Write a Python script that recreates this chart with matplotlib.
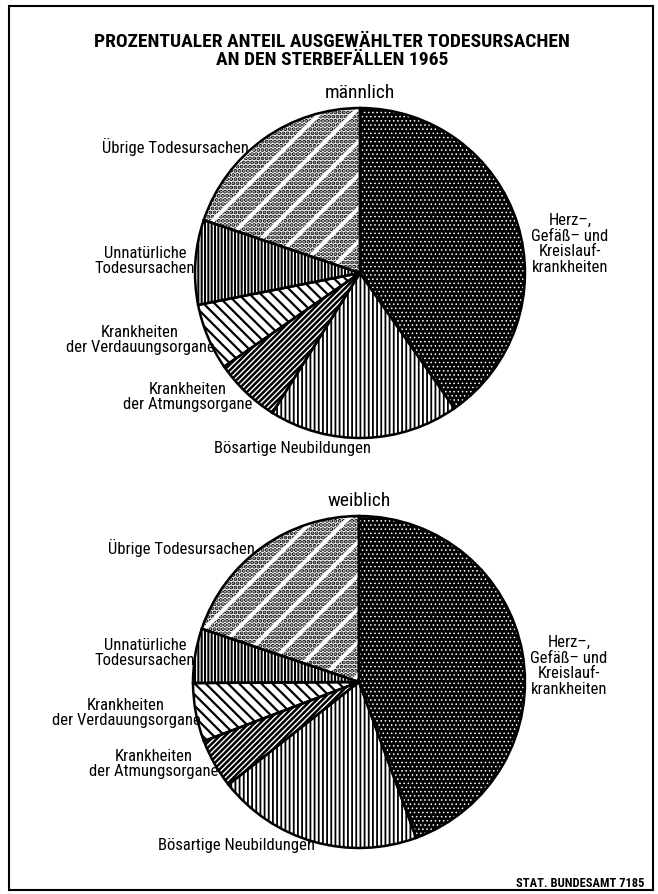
import matplotlib
matplotlib.use('Agg')
import matplotlib.pyplot as plt
from matplotlib.patches import Rectangle

plt.rcParams['font.family'] = ['Roboto Condensed', 'Liberation Sans Narrow', 'DejaVu Sans']
plt.rcParams['font.stretch'] = 'condensed'
plt.rcParams['hatch.linewidth'] = 1.0

# ---- data: share of selected causes in all deaths 1965 (%) ----
causes = [
    'Herz–,\nGefäß– und\nKreislauf-\nkrankheiten',
    'Bösartige Neubildungen',
    'Krankheiten\nder Atmungsorgane',
    'Krankheiten\nder Verdauungsorgane',
    'Unnatürliche\nTodesursachen',
    'Übrige Todesursachen',
]
male_share = [40.3, 18.6, 6.5, 6.5, 8.3, 19.8]
female_share = [44.4, 20.0, 4.8, 5.7, 5.3, 19.8]
panel_titles = ['männlich', 'weiblich']

# ---- styling per wedge (same order as causes) ----
fills = ['black', 'white', 'white', 'white', 'white', 'white']
hatches = ['....', '||||', '//////', '\\\\\\', '|||||', '....']
hatch_colors = ['white', 'black', 'black', 'black', 'black', 'black']
hatch_lws = [0.6, 1.3, 1.8, 1.6, 1.5, 2.0]

W, H = 658, 895


def Y(y):
    # pixel row measured from the top -> data y
    return H - y


fig = plt.figure(figsize=(W / 100, H / 100), dpi=100)
ax = fig.add_axes([0, 0, 1, 1])

# pie centres / radius in pixels, label positions (x, y from top)
panels = [
    dict(shares=male_share, center=(360, 274), r=165, title_y=93,
         labels=[(570, 244), (292, 448), (188, 397), (140, 340), (145, 261), (175, 147)]),
    dict(shares=female_share, center=(359, 683), r=166, title_y=501,
         labels=[(569, 666), (236, 846), (154, 764), (126, 713), (145, 653), (181, 548)]),
]


def set_hlw(patch, lw):
    if hasattr(patch, 'set_hatch_linewidth'):
        patch.set_hatch_linewidth(lw)


for p, title in zip(panels, panel_titles):
    cx, cy = p['center']
    kw = dict(startangle=90, counterclock=False, center=(cx, Y(cy)), radius=p['r'])

    # filled / hatched wedges
    wedges, _ = ax.pie(p['shares'], colors=fills, hatch=hatches,
                       wedgeprops=dict(linewidth=0), **kw)
    for w, hc, hl in zip(wedges, hatch_colors, hatch_lws):
        w.set_edgecolor(hc)
        set_hlw(w, hl)

    # white diagonal gaps turn the dots of "Übrige" into stripes
    over, _ = ax.pie(p['shares'], colors=['none'] * 6,
                     hatch=[''] * 5 + ['/'], wedgeprops=dict(linewidth=0), **kw)
    over[-1].set_edgecolor('white')
    set_hlw(over[-1], 2.8)

    # black outlines
    ax.pie(p['shares'], wedgeprops=dict(fill=False, edgecolor='black', linewidth=1.8), **kw)

    ax.text(cx, Y(p['title_y']), title, ha='center', va='center', fontsize=14)
    for name, (lx, ly) in zip(causes, p['labels']):
        ax.text(lx, Y(ly), name, ha='center', va='center', multialignment='center',
                fontsize=12, linespacing=1.05)

ax.text(332, Y(42), 'PROZENTUALER ANTEIL AUSGEWÄHLTER TODESURSACHEN',
        ha='center', va='center', fontsize=14, fontweight='bold')
ax.text(332, Y(60), 'AN DEN STERBEFÄLLEN 1965',
        ha='center', va='center', fontsize=14, fontweight='bold')
ax.text(644, Y(884), 'STAT. BUNDESAMT 7185', ha='right', va='center',
        fontsize=9, fontweight='bold')

ax.add_patch(Rectangle((9, Y(891)), 644, 884, fill=False, edgecolor='black', linewidth=1.5))

ax.set_xlim(0, W)
ax.set_ylim(0, H)
ax.set_aspect('auto')
ax.axis('off')

fig.savefig('out.png', dpi=100)
